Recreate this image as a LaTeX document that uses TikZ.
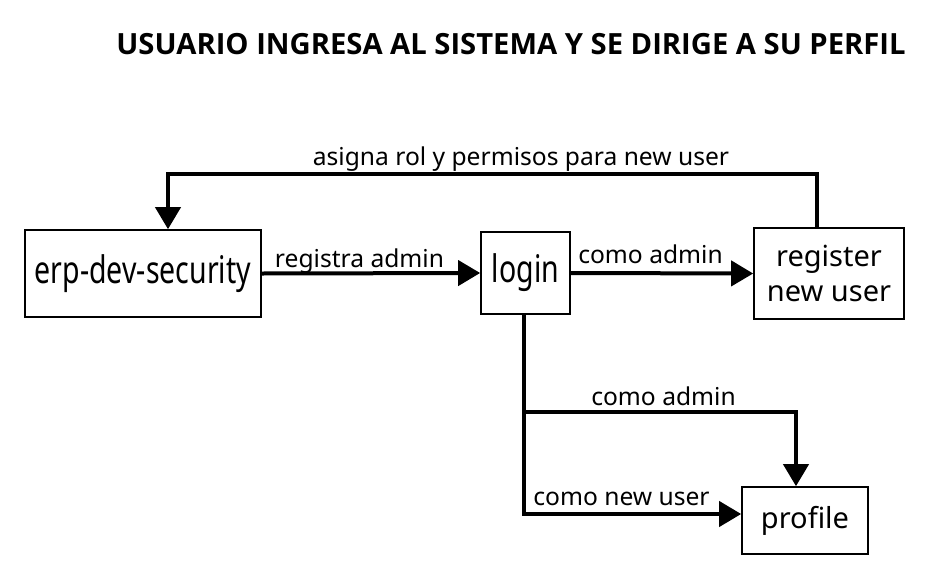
\documentclass[tikz,border=0pt]{standalone}
\usepackage{fontspec}
\setmainfont{Noto Sans}
\newfontfamily\condfont[FakeStretch=0.75]{Noto Sans}
\newfontfamily\titlefont{Open Sans}
\usepackage{tikz}
\usetikzlibrary{calc,arrows.meta}

\tikzset{
  box/.style={draw, line width=1.6pt, inner sep=0pt, align=center},
  arr/.style={line width=4pt, -{Triangle[length=22pt,width=25pt]}},
  lbl/.style={anchor=base, inner sep=0pt, font=\fontsize{24.6}{30}\selectfont}
}

\begin{document}
\begin{tikzpicture}[x=1pt,y=-1pt]
  \useasboundingbox (0,0) rectangle (943,584);

  %% Title
  \node[anchor=base, inner sep=0pt, font=\titlefont\bfseries\fontsize{29.2}{34}\selectfont] (title) at (511,54)
    {USUARIO INGRESA AL SISTEMA Y SE DIRIGE A SU PERFIL};

  %% Boxes
  \node[box, minimum width=236pt, minimum height=87pt, font=\condfont\fontsize{38}{44}\selectfont] (erp) at (143,273.5) {erp-dev-security};
  \node[box, minimum width=89pt, minimum height=82pt, font=\condfont\fontsize{38}{44}\selectfont] (login) at (525.5,273) {login};
  \node[box, minimum width=150pt, minimum height=91pt, font=\fontsize{29}{35}\selectfont] (reg) at (829,273.5) {register\\new user};
  \node[box, minimum width=126pt, minimum height=67pt, font=\fontsize{29}{35}\selectfont] (profile) at (805,520.5) {profile};

  %% Connectors
  \draw[arr] (erp.east) -- (login.west);
  \draw[arr] (login.east) -- (reg.west);

  \coordinate (loopR) at ($(reg.north)+(-12,0)$);
  \coordinate (loopL) at ($(erp.north)+(25,0)$);
  \draw[arr] (loopR) -- ++(0,-53) -| (loopL);

  \coordinate (down) at ($(login.south)+(-1.5,0)$);
  \coordinate (profW) at ($(profile.west)+(0,-6.5)$);
  \coordinate (profN) at ($(profile.north)+(-9,0)$);
  \coordinate (split) at ($(down)+(0,97)$);
  \draw[arr] (down) |- (profW);
  \draw[arr] (split) -| (profN);

  %% Labels
  \node[lbl] (l1) at (521,165) {asigna rol y permisos para new user};
  \node[lbl] (l2) at (359.5,267) {registra admin};
  \node[lbl] (l3) at (650.5,263) {como admin};
  \node[lbl] (l4) at (663.5,405) {como admin};
  \node[lbl] (l5) at (621.5,505) {como new user};
\end{tikzpicture}
\end{document}
